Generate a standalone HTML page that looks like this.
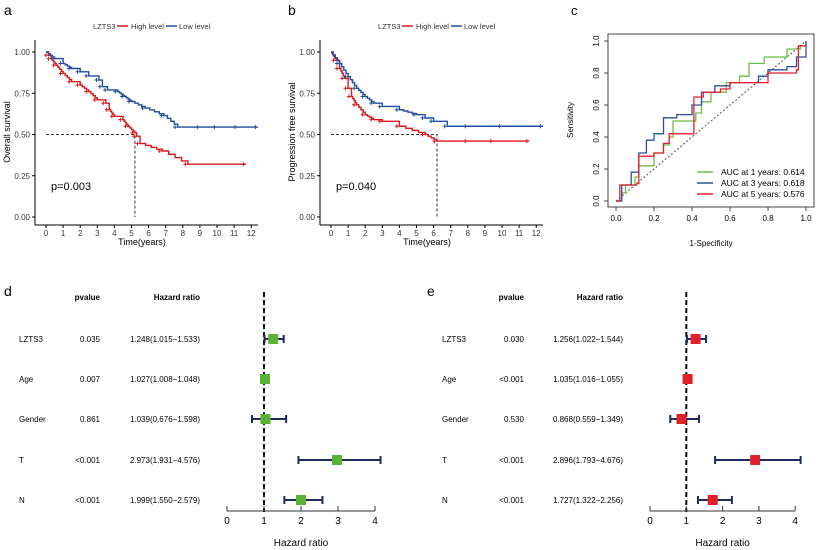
<!DOCTYPE html>
<html><head><meta charset="utf-8"><style>
body{margin:0;background:#fff;}
svg{display:block;font-family:"Liberation Sans",Arial,sans-serif;}
</style></head><body>
<svg id="s" width="824" height="550" viewBox="0 0 824 550" xmlns="http://www.w3.org/2000/svg">
<rect width="824" height="550" fill="#fff"/>
<text x="4" y="15" font-size="14">a</text>
<text x="288" y="15" font-size="14">b</text>
<text x="571" y="15" font-size="13">c</text>
<text x="4" y="296" font-size="14">d</text>
<text x="427" y="296" font-size="14">e</text>
<g font-size="7.5" fill="#333">
<text x="93" y="29">LZTS3</text><line x1="117" y1="26" x2="128" y2="26" stroke="#d7191c" stroke-width="1.5"/><text x="131" y="29">High level</text>
<line x1="166" y1="26" x2="177" y2="26" stroke="#1f4e9c" stroke-width="1.5"/><text x="179" y="29">Low level</text>
<text x="378" y="29">LZTS3</text><line x1="402" y1="26" x2="413" y2="26" stroke="#d7191c" stroke-width="1.5"/><text x="416" y="29">High level</text>
<line x1="451" y1="26" x2="462" y2="26" stroke="#1f4e9c" stroke-width="1.5"/><text x="464" y="29">Low level</text>
</g>
</svg>
<script>
const S=document.getElementById('s');
const NS='http://www.w3.org/2000/svg';
function el(t,a,txt){const e=document.createElementNS(NS,t);for(const k in a)e.setAttribute(k,a[k]);if(txt!==undefined)e.textContent=txt;S.appendChild(e);return e;}
function km(ox,ylab,p,med,high,low){
  const X=t=>ox+t*17.1, Y=s=>217-s*165;
  el('line',{x1:ox-11,y1:40,x2:ox-11,y2:225,stroke:'#000','stroke-width':1});
  el('line',{x1:ox-11,y1:225,x2:ox+212,y2:225,stroke:'#000','stroke-width':1});
  [0,0.25,0.5,0.75,1].forEach(v=>{el('line',{x1:ox-14,x2:ox-11,y1:Y(v),y2:Y(v),stroke:'#000'});
    el('text',{x:ox-16,y:Y(v)+3,'font-size':8,'text-anchor':'end',fill:'#333'},v.toFixed(2));});
  for(let i=0;i<=12;i++){el('line',{x1:X(i),x2:X(i),y1:225,y2:228,stroke:'#000'});
    el('text',{x:X(i),y:236,'font-size':8,'text-anchor':'middle',fill:'#333'},i);}
  el('text',{x:ox+96,y:245,'font-size':9,'text-anchor':'middle'},'Time(years)');
  el('text',{x:0,y:0,'font-size':9,'text-anchor':'middle',transform:`translate(${ox-36},132) rotate(-90)`},ylab);
  el('text',{x:ox+5,y:190,'font-size':11},p);
  el('path',{d:`M${X(0)} ${Y(.5)}H${X(med)}V${Y(0)}`,stroke:'#333',fill:'none','stroke-dasharray':'3,2'});
  [[high,'#d7191c'],[low,'#1f4e9c']].forEach(([d,c])=>{
    let s=`M${X(0)} ${Y(1)}`;
    for(let i=1;i<d.length;i++){
      const [t0,s0]=d[i-1],[t1,s1]=d[i];
      const n=(s0-s1)>0.03&&(t1-t0)>0.25?4:1;
      for(let j=1;j<=n;j++){const t=t0+(t1-t0)*j/n, v=s0+(s1-s0)*j/n; s+=`H${X(t)}V${Y(v)}`;}
    }
    el('path',{d:s,stroke:c,fill:'none','stroke-width':1.4});
    for(let i=1;i<d.length;i++){const x=X(d[i][0]-0.15),y=Y(d[i][1]);
      el('path',{d:`M${x-2} ${y}h4M${x} ${y-2}v4`,stroke:c,'stroke-width':1});}
  });
}
km(46,'Overall survival','p=0.003',5.2,
 [[0,1],[.15,.98],[.3,.96],[.6,.92],[1,.87],[1.5,.82],[2,.8],[2.5,.76],[3,.71],[3.5,.69],[3.7,.65],[4,.61],[4.5,.59],[4.8,.55],[5.2,.51],[5.3,.49],[5.5,.445],[6.8,.40],[8.3,.32],[11.7,.32]],
 [[0,1],[.5,.96],[1,.93],[1.5,.9],[2,.88],[2.5,.855],[3.1,.83],[3.3,.79],[3.6,.77],[4.2,.76],[4.6,.73],[5,.7],[5.8,.66],[6.9,.615],[7.7,.545],[9,.545],[10,.545],[11.2,.545],[12.4,.545]]);
km(331,'Progression free survival','p=0.040',6.2,
 [[0,1],[.3,.95],[.5,.9],[.8,.84],[1,.78],[1.2,.73],[1.5,.68],[2,.62],[2.5,.59],[3,.58],[4,.55],[5.5,.50],[6.2,.46],[8,.46],[9.5,.46],[11.6,.46]],
 [[0,1],[.5,.93],[1,.85],[1.5,.78],[2,.73],[2.5,.69],[3,.67],[4,.65],[5,.62],[5.5,.6],[6,.58],[6.8,.55],[8,.55],[10,.55],[12.4,.55]]);

(function(){
 const X=v=>616+v*190, Y=v=>201-v*160;
 el('rect',{x:608,y:34,width:206,height:173,fill:'none',stroke:'#444'});
 [0,.2,.4,.6,.8,1].forEach(v=>{
  el('line',{x1:X(v),x2:X(v),y1:207,y2:211,stroke:'#444'});
  el('text',{x:X(v),y:221,'font-size':8,'text-anchor':'middle'},v.toFixed(1));
  el('line',{x1:604,x2:608,y1:Y(v),y2:Y(v),stroke:'#444'});
  el('text',{x:0,y:0,'font-size':8,'text-anchor':'middle',transform:`translate(599,${Y(v)}) rotate(-90)`},v.toFixed(1));
 });
 el('text',{x:711,y:246,'font-size':8,'text-anchor':'middle'},'1-Specificity');
 el('text',{x:0,y:0,'font-size':8,'text-anchor':'middle',transform:'translate(573,120) rotate(-90)'},'Sensitivity');
 el('line',{x1:X(0),y1:Y(0),x2:X(1),y2:Y(1),stroke:'#555','stroke-dasharray':'2,2'});
 const c={g:[[0,0],[.03,.05],[.05,.1],[.1,.15],[.12,.22],[.2,.3],[.25,.35],[.28,.4],[.3,.5],[.42,.55],[.45,.62],[.5,.68],[.58,.74],[.65,.78],[.7,.86],[.78,.9],[.9,.95],[.97,.97],[1,1]],
  b:[[0,0],[.03,.1],[.08,.18],[.12,.3],[.16,.38],[.2,.42],[.25,.52],[.32,.54],[.4,.6],[.45,.68],[.52,.72],[.6,.74],[.75,.78],[.8,.82],[.9,.84],[.95,.9],[1,1]],
  r:[[0,0],[.02,.1],[.11,.11],[.12,.28],[.2,.3],[.25,.36],[.28,.42],[.41,.44],[.41,.65],[.46,.68],[.55,.7],[.6,.74],[.8,.8],[.95,.82],[.96,.97],[1,.97]]};
 const col={g:'#6cbd45',b:'#2c4d9a',r:'#e4202e'};
 for(const k of ['g','b','r']){let s='';c[k].forEach((p,i)=>{s+=(i?(` H${X(p[0])} V${Y(p[1])}`):`M${X(p[0])} ${Y(p[1])}`);});
  el('path',{d:s,stroke:col[k],fill:'none','stroke-width':1.3});}
 [['g','AUC at 1 years: 0.614',175],['b','AUC at 3 years: 0.618',186],['r','AUC at 5 years: 0.576',197]].forEach(([k,t,y])=>{
  el('line',{x1:697,x2:713,y1:y-3,y2:y-3,stroke:col[k],'stroke-width':1.5});
  el('text',{x:721,y:y,'font-size':8.5},t);});
})();

function forest(o){
 const rows=[339,379,419,460,500];
 const X=v=>o.x0+v*o.u;
 el('text',{x:o.pr,y:300,'font-size':8,'font-weight':'bold','text-anchor':'end'},'pvalue');
 el('text',{x:o.hr,y:300,'font-size':8,'font-weight':'bold','text-anchor':'end'},'Hazard ratio');
 el('line',{x1:X(1),x2:X(1),y1:292,y2:512,stroke:'#111','stroke-width':2,'stroke-dasharray':'5,3'});
 el('line',{x1:X(0),x2:X(4),y1:511,y2:511,stroke:'#333'});
 for(let i=0;i<=4;i++){el('line',{x1:X(i),x2:X(i),y1:511,y2:506,stroke:'#333'});
  el('text',{x:X(i),y:524,'font-size':10,'text-anchor':'middle'},i);}
 el('text',{x:X(2),y:546,'font-size':10,'text-anchor':'middle'},'Hazard ratio');
 o.d.forEach((r,i)=>{const y=rows[i];
  el('text',{x:o.lx,y:y+3,'font-size':8},r[0]);
  el('text',{x:o.pr,y:y+3,'font-size':8,'text-anchor':'end'},r[1]);
  el('text',{x:o.hr,y:y+3,'font-size':8,'text-anchor':'end'},`${r[2].toFixed(3)}(${r[3].toFixed(3)}\u2212${r[4].toFixed(3)})`);
  el('path',{d:`M${X(r[3])} ${y}H${X(Math.min(r[4],4.15))}M${X(r[3])} ${y-4}v8M${X(Math.min(r[4],4.15))} ${y-4}v8`,stroke:'#1f2a60','stroke-width':2,fill:'none'});
  el('rect',{x:X(r[2])-5,y:y-5,width:10,height:10,fill:o.c});
 });
}
forest({x0:227,u:37,lx:19,pr:100,hr:200,c:'#5ab233',d:[
 ['LZTS3','0.035',1.248,1.015,1.533],['Age','0.007',1.027,1.008,1.048],['Gender','0.861',1.039,0.676,1.598],['T','<0.001',2.973,1.931,4.576],['N','<0.001',1.999,1.550,2.579]]});
forest({x0:650,u:36.3,lx:442,pr:524,hr:623,c:'#e0202a',d:[
 ['LZTS3','0.030',1.256,1.022,1.544],['Age','<0.001',1.035,1.016,1.055],['Gender','0.530',0.868,0.559,1.349],['T','<0.001',2.896,1.793,4.676],['N','<0.001',1.727,1.322,2.256]]});
</script>
</body></html>
